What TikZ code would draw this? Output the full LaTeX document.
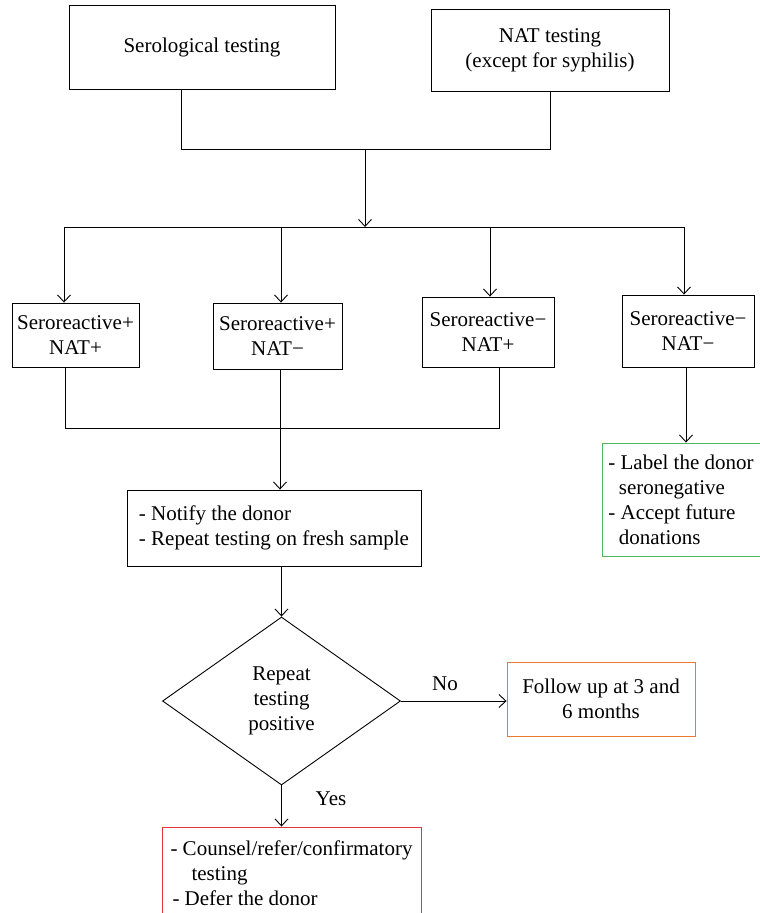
\documentclass[tikz,border=0pt]{standalone}
\usepackage{fontspec}
\setmainfont{Liberation Serif}
\usetikzlibrary{arrows.meta,shapes.geometric}
\definecolor{gbox}{RGB}{80,182,96}
\definecolor{obox}{RGB}{234,122,50}
\definecolor{rbox}{RGB}{228,52,62}
\begin{document}
\begin{tikzpicture}[x=1pt,y=-1pt,
  every node/.style={font=\fontsize{21}{25}\selectfont},
  box/.style={draw, line width=0.9pt, inner sep=0pt, align=center},
  lbox/.style={draw, line width=0.9pt, inner sep=0pt, align=left},
  conn/.style={line width=0.9pt},
  arr/.style={line width=0.9pt, -{Straight Barb[length=7pt,width=13pt,line width=0.9pt]}},
  lbl/.style={inner sep=0pt}]
\useasboundingbox (0,0) rectangle (760,913);
% top boxes
\node[box, minimum width=266pt, minimum height=84pt] (ser) at (202,47) {Serological testing};
\node[box, minimum width=238pt, minimum height=82pt] (nat) at (550,50)
  {\fontsize{21}{30}\selectfont NAT testing\\(except for syphilis)};
% result boxes
\node[box, minimum width=127pt, minimum height=64pt] (b1) at (75.5,335) {Seroreactive+\\NAT+};
\node[box, minimum width=129pt, minimum height=66pt] (b2) at (277.5,336) {Seroreactive+\\NAT−};
\node[box, minimum width=132pt, minimum height=70pt] (b3) at (488,332)
  {\fontsize{21}{31}\selectfont Seroreactive−\\NAT+};
\node[box, minimum width=132pt, minimum height=72pt] (b4) at (688,331)
  {\fontsize{21}{31}\selectfont Seroreactive−\\NAT−};
% action boxes
\node[lbox, minimum width=294pt, minimum height=76pt] (notify) at (274,528)
  {\fontsize{21}{28}\selectfont - Notify the donor\\- Repeat testing on fresh sample};
\node[lbox, draw=gbox, minimum width=158pt, minimum height=113pt] (green) at (681,499.5)
  {\fontsize{21}{24.5}\selectfont - Label the donor\\\phantom{-}\,seronegative\\- Accept future\\\phantom{-}\,donations};
\node[draw, diamond, line width=0.9pt, inner sep=0pt, minimum width=238pt, minimum height=168pt, align=center] (dia) at (281.5,701)
  {\fontsize{21}{26.5}\selectfont Repeat\\testing\\positive};
\node[box, draw=obox, minimum width=188pt, minimum height=74pt] (follow) at (601,699)
  {\fontsize{21}{26}\selectfont Follow up at 3 and\\6 months};
\node[lbox, draw=rbox, minimum width=259pt, minimum height=92pt] (counsel) at (291.5,873)
  {\fontsize{21}{24}\selectfont - Counsel/refer/confirmatory\\\hspace*{21pt}testing\\\hspace*{2pt}- Defer the donor};
% labels
\node[lbl] (no) at (445,684) {No};
\node[lbl] (yes) at (331,799) {Yes};
% junction coordinates
\coordinate (sL) at (181,149);
\coordinate (sR) at (550,149);
\coordinate (j1) at (365,149);
\coordinate (dist) at (365,227);
\coordinate (dL) at (64,227);
\coordinate (d2) at (281,227);
\coordinate (d3) at (490,227);
\coordinate (dR) at (684,227);
\coordinate (cL) at (65,428);
\coordinate (c2) at (280,428);
\coordinate (cR) at (499,428);
\coordinate (g4) at (686,400);
% connectors
\draw[conn] (ser.south -| sL) -- (sL) -- (sR) -- (nat.south -| sR);
\draw[arr] (j1) -- (dist);
\draw[conn] (dL) -- (dR);
\draw[arr] (dL) -- (b1.north -| dL);
\draw[arr] (d2) -- (b2.north -| d2);
\draw[arr] (d3) -- (b3.north -| d3);
\draw[arr] (dR) -- (b4.north -| dR);
\draw[conn] (b1.south -| cL) -- (cL) -- (cR) -- (b3.south -| cR);
\draw[conn] (b2.south -| c2) -- (c2);
\draw[arr] (c2) -- (notify.north -| c2);
\draw[arr] (b4.south -| g4) -- (green.north -| g4);
\draw[arr] (notify.south -| dia.north) -- (dia.north);
\draw[arr] (dia.east) -- (dia.east -| follow.west);
\draw[arr] (dia.south) -- (counsel.north -| dia.south);
\end{tikzpicture}
\end{document}
